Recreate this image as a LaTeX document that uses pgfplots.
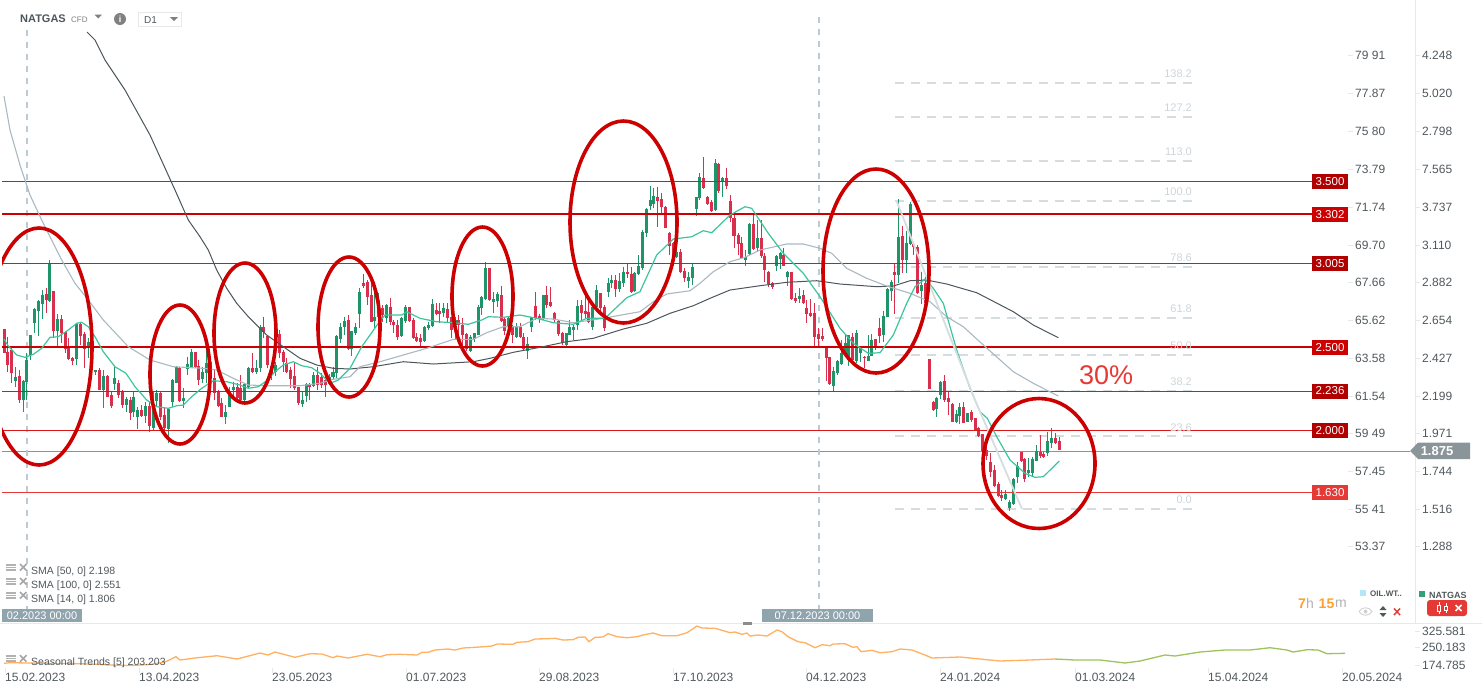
\documentclass[border=0pt]{standalone}
\usepackage{fontspec}
\setmainfont{Liberation Sans}
\usepackage{pgfplots}
\usepackage{pgfplotstable}
\pgfplotsset{compat=1.18}
\definecolor{up}{HTML}{1F9468}
\definecolor{down}{HTML}{D92E4C}
\definecolor{ma14}{HTML}{3CC49C}
\definecolor{ma50}{HTML}{A9B8C1}
\definecolor{ma100}{HTML}{4B565C}
\definecolor{ring}{HTML}{CC0000}
\definecolor{lvl}{HTML}{B00000}
\definecolor{lvlline}{HTML}{D81818}
\definecolor{lvllow}{HTML}{E53935}
\definecolor{cursor}{HTML}{BCCBD3}
\definecolor{fib}{HTML}{D5DDE1}
\definecolor{fibtext}{HTML}{CDD5D9}
\definecolor{tagbg}{HTML}{90A4AE}
\definecolor{pricebg}{HTML}{8A9599}
\definecolor{ticktext}{HTML}{50585C}
\definecolor{hair}{HTML}{E6E8EA}
\definecolor{season}{HTML}{FFB060}
\definecolor{seasonb}{HTML}{9CC45A}
\definecolor{clock}{HTML}{FF9F2E}
\newcommand{\fs}[1]{\fontsize{#1}{#1}\selectfont}
\newcommand{\fiblabel}[2]{\node[anchor=east, inner sep=0pt, text=fibtext, font=\fs{11}] at (axis cs:1192,#1) {#2};}
\newcommand{\lvltag}[3]{\node[fill=#2, text=white, font=\fs{11.5}, inner sep=0pt, minimum width=36pt, minimum height=15pt] at (axis cs:1330,#1) {#3};}

% all positions: x and y in image pixels
% columns: x, wick top, wick bottom, body top, body bottom
\pgfplotstableread{
x hi lo top bot
15.3 366.7 386.7 377.3 381
23.3 380 411.7 380.7 400
26.7 353.3 400 360 381.7
30.3 335 360 335 355
34.3 308.3 332.7 309 323.3
38.3 300 336 301 310.7
42.3 290 319.3 295 304
49.3 260 301.7 264.3 300.7
57.3 314.3 346 319 330.7
76.3 323.3 365 324 359.3
88.3 338.3 358.3 342.3 348.3
95.3 370 375 370 372.3
103.3 370 408.3 376 390
114.7 366.7 390 378.3 384.3
126.3 396.7 411.7 399 405
133.3 391 416.7 396.7 411.7
137.3 406.7 429.3 410 416.7
145.3 401.7 423.3 406 416
153.3 391.7 430 410 427.7
156.7 390 406.7 392.7 400.7
168.3 408.3 443.3 409 429.3
172.3 379.3 407.3 380 401.7
176.3 365.7 383.3 367.3 382.7
183.3 388.3 408.3 398.3 400.7
187.3 356.7 375 364.3 369
191.3 349.3 368.3 352.3 367.7
202.3 366.7 383.3 371.7 379.3
206.3 348.3 383.3 363.3 372.7
225.3 405 424.3 411.7 416.7
229.3 386.7 406.7 391.7 406.7
233.3 381.7 396.7 386.7 390
244.3 383.3 405 384 400
248.3 366.7 388.3 368.3 386.7
256.3 360 374 367.7 371.7
260.3 325 371.7 327.3 367.7
275.3 362 376 365 372
302.3 391.7 406.7 400 404
306.3 383.3 401.7 384 396
313.7 371.7 386.7 375 385.7
329.7 374 385 376.7 384
333 366.7 379.3 371.7 377.3
336.3 335 378.3 336 372.7
340.3 323.3 343.3 327.3 339
344.3 316.7 335 321 327.3
351.7 331 355.7 331 349.3
355.3 323.3 335 327.3 333.3
359.3 288.3 328.3 291.7 314
374.3 288.3 328.3 317.3 321
378.3 293.3 320 300 316.7
386.3 304.3 323.3 305 318.3
401.3 316.7 336.7 318.3 335.7
405.3 305 323.3 306.7 321
424.3 326 341.7 326.7 341
428.3 321.7 330 325 328.3
432.3 299.3 326.7 304 325.7
443.3 303.3 316.7 308.3 312.7
455.3 316.7 340 320 325
470.3 335 351.7 337.3 350.7
474.3 332.7 341.7 333.3 339
478.3 305 335 307.3 335
481.3 296 315 296.7 308.3
485.3 261.7 300 268.3 299
493.3 291.7 313.3 299.3 301.7
497.3 291.7 306.7 294 300.7
508.3 316.7 335 318.3 326.7
516.3 323.3 338.3 326.7 337.3
527.3 336.7 359.3 344 350.7
531.3 316.7 331.7 317.3 326.7
543.3 295 320 295.3 317.7
566.3 333.3 346 333.3 345
569.3 320 335 326.7 335
573.3 324 340 326.7 330
577.3 300 330 306 325
592.3 305 330 307.3 326.7
596.3 285 308.3 290 307.3
608.3 278.3 296.7 283.3 291.7
611.3 275 288.3 280 282.7
619.3 273.3 291.7 280.7 289.3
623.3 266.7 286.7 272.3 282.7
634.3 271.7 291.7 273.3 291
638.3 255 275 266 274.3
642.3 230 270 232.3 267.7
646.3 208.3 236.7 209.3 233.3
650.3 186 210 200 205.7
653.7 188.3 208.3 196 204
676.7 246.7 258.3 251.7 256.7
688.3 271.7 288.3 277.3 280.7
692.3 264 285 267.3 278.3
696.3 196.7 216 197.3 209.3
699.3 173.3 200 177.3 198.3
715.3 159.3 210.7 163.3 210
722.7 176.7 196.7 178.3 181
745.3 250 266 257.3 260
749.3 223.3 255 224 254
757.3 220 251.7 238.3 247.7
776.3 255 271 256 266
780.3 251.7 269.3 252.7 259.3
787.3 271 286 272.3 276.7
799.3 288.3 303.3 295.7 299.3
833.3 366.7 390.7 371 385.7
837.3 360 375 361 372.7
841.3 340 365 353.3 364
845.3 335 356.7 343.3 354
848.3 335 366 335.3 360
856.3 330 363.3 333.3 360.7
860.3 348.3 361.7 348.3 352.7
868.3 335 361 355.7 360.7
871.3 334.3 356 340 356
883.3 310.7 341.7 316 335
887.3 288.3 316.7 289.3 316.7
891.3 280 300.7 282.3 291
898.3 199.3 283.3 237.3 275
906.3 230.7 272.7 243.3 260
910.3 201.7 245 204 244
921.3 271.7 304 285 290.7
936.3 396.7 416.7 397.7 409
940.3 380.7 399 382 395
956.3 410 422.7 414.3 421.7
959.3 403.3 424 407.3 415.7
967.3 412.7 421.7 413.3 421.7
1005.3 490 500 494 499
1009.3 500 510.7 502.3 507.7
1013.3 478.3 505 479.3 504.3
1017.3 461.7 483.3 466 477.3
1028.3 458.3 476.7 470 472.7
1032.3 456.7 477.3 459 473.3
1036.3 445 460.7 451 460.7
1047.3 432.3 455.7 441 452.7
1051.3 428.3 448.3 438 442.7
}\upcandles

\pgfplotstableread{
x hi lo top bot
4.3 329.3 353.3 329.3 352.7
7.3 336.7 371.7 351.7 365
11.3 346.7 383.3 350 372.7
19.3 370 402.7 376 400
46.3 288.3 312.7 294 300
53.3 291 337.7 291 331
61.3 315 343.3 319.3 333.3
65.3 331.7 352.7 331.7 349.3
68.3 338.3 360 348.3 359.3
72.3 356.7 365 357.7 361
80.3 321.7 345 324 336
84.3 331.7 368.3 334 348.7
91.7 340 356.7 345 353
99.3 368.3 390 370 390
107.3 375 396.7 376 396.7
111.3 391.7 408.3 395 405.7
118.3 380 398.3 383.3 395
122.3 390 408.3 392 405
130.3 396.7 420 400 413.3
141.3 405 416.7 410 416
149.3 401.7 431.7 406 426
160.3 391.7 420 393.3 416.7
164.7 408.3 430 415 428.3
179.3 366.7 401.7 367.7 401
195.3 351.7 368.3 352.3 366.7
198.7 360 385 365.7 380
210.3 356.7 376.7 361.7 373.3
214.3 370 400 377.7 393.3
218.3 390 406.7 391 406
221.7 398.3 416.7 403.3 416.7
237.3 383.3 400 386.7 398.3
240.7 375 403.3 387.7 400
252.3 353.3 373.3 368.3 371.7
263.3 316.7 338.3 327.3 331.7
267.3 335 368.3 335.7 365
271.7 363 380 366 375
279.3 330 358.3 334.3 353.3
283.3 350 371.7 352.3 361.7
286.3 358.3 373.3 362.7 371.7
290.3 366.7 388.3 370 379
294.3 363.3 390 376 388.3
298.3 386.7 405 387.3 403.3
309.7 383.3 400 384 387.3
317.7 366.7 390 375 385
321.7 373.3 388.3 377.3 385
325.7 376.7 396.7 380 385
348.3 315 350 320 349.3
363.3 274 288.3 283.3 285.7
367.3 280 305 282.3 296.7
371.3 283.3 321.7 295 321.7
382.3 305 321.7 308.3 315
390.3 298.3 325 306.7 322.3
393.3 320 333.3 321.7 325
397.3 320 340 325 336.7
409.3 306.7 321.7 307.3 321
413.3 318.3 339.3 320 338.3
416.3 333.3 341.7 337.3 340.7
420.3 334 348.3 338.3 342.3
436.3 303.3 315 310 314
439.3 303.3 323.3 310.7 314
447.3 303.3 321.7 309 318.3
451.3 316.7 338.3 316.7 330
458.3 315 335 320 325
462.3 318.3 345 325 335
466.3 333.3 350.7 334 349.3
489.3 268.3 301 268.3 300
501.3 285.7 321.7 295 320.7
504.3 316.7 335 319 331
512.3 325 342.7 326.7 335
520.3 323.3 338.3 327.3 337.3
523.3 333.3 350.7 336.7 349.3
535.3 291.7 320 306 318.3
539.3 314.3 323.3 316 318.3
546.3 286 308.3 295 305
550.3 286.7 307.3 302.3 306
554.3 311.7 323.3 313.3 320
558.3 320 335.7 321 334
562.3 331.7 345 333.3 343.3
581.3 300 321.7 305.3 312.7
585.3 295 318.3 310.7 314
588.3 298.3 323.3 311.7 321.7
600.3 293.3 315 293.3 308.3
604.3 305 330.7 307.3 327.7
615.3 275 296.7 280 289.3
627.3 263.3 278.3 272.3 274.3
631.3 266.7 293.3 274 291.7
657.3 186.7 226.7 197.3 200.7
661.3 193.3 212.7 199.3 206.7
665.3 206 228.3 207.3 228.3
669.3 231.7 255 232.7 245.7
673.3 241.7 266 243.3 256
680.3 249.3 273.3 252.3 271.7
684.3 268.3 281.7 270.7 277.7
703.3 157.3 189.3 178.3 187.7
707.3 196 205 196.7 204
711.3 200 211.7 202.3 211.3
718.7 162.7 192.7 164 190.7
726.3 168.3 189.3 178.3 185.7
730.3 195 221.7 201 218.3
734 213.3 247.7 218.3 235.7
738.3 233.3 255 235 244
741.7 236.7 259.3 243.3 258.3
753.3 215 250 224 249
761.3 220 258.3 238.3 256
764.3 253.3 281.7 255.7 270
768.3 270.7 286.7 271.7 284.3
772.3 281.7 289 282.7 287.3
783.3 248.3 266 255 265.7
791.3 271.7 300 272.3 299.3
795.3 293.3 303.3 298.3 301
803.3 290 304 295.3 302.7
806.3 300 322.7 308.3 314.3
810.3 299.3 317.3 313.3 316
814.3 303.3 348.3 313.3 336.7
818.3 328.3 348.3 334 339
822.3 328.3 341 336 339
826.3 348.3 381 348.3 357.7
829.3 356.7 385 357.3 384
852.3 333.3 361.7 337.3 360
864.3 356 368.3 356.7 358.3
875.3 339.3 350 339.3 347.7
879.3 318.3 343.3 328.3 336
894.3 263.3 314.3 272.3 275
902.3 226 273.3 236 260
913.3 243.3 255 244.3 246.7
917.3 245 294 247.3 292.7
925.3 276.7 313.3 283.3 303.3
929.3 359.3 389.3 359.3 389.3
933.3 400.7 410.7 401.7 410
944.3 375 401.7 381.3 400
948.3 392.3 415 398.3 401.7
952.3 402.7 421.7 404.3 421.7
963.3 402.3 423.3 407.3 422.7
971.3 410 421.7 412 420
975.3 418.3 430.7 418.3 430
978.7 426.7 437.3 428.3 435.7
982.7 434 450.7 434 450.7
986.3 446.7 460 450 456
990.3 453.3 476.7 462.3 472.3
994.3 465 487.3 470 486
998.3 481.7 496.7 484 496
1001.3 490 500.7 495 498.3
1021.3 451.7 461.7 452.3 461
1024.3 458.3 481.7 459.3 479.3
1040.3 435 458.3 451.7 456
1043.7 451.7 458.3 454 457.3
1055.3 433.3 444 438.3 443.3
1059.3 437.3 450 441 450
}\downcandles

\begin{document}
\begin{tikzpicture}
\useasboundingbox (0,0) rectangle (1482pt,-694pt);

% second price scale and the last-price line
\begin{axis}[
    at={(2pt,0pt)}, anchor=north west, scale only axis,
    width=1413pt, height=623pt,
    xmin=2, xmax=1415, ymin=0, ymax=623, y dir=reverse,
    hide x axis, axis y line*=right,
    y axis line style={draw=hair, line width=0.8pt, -},
    tick align=outside, major tick length=5pt,
    y tick style={draw=hair, line width=0.8pt},
    ytick={55,93,131,169,207,245,282,320,358,396,433,471,509,546},
    yticklabels={4.248,5.020,2.798,7.565,3.737,3.110,2.882,2.654,2.427,2.199,1.971,1.744,1.516,1.288},
    yticklabel style={font=\fs{12}, text=ticktext, anchor=west, inner sep=0pt, xshift=2pt},
]
\addplot[color=pricebg, line width=1pt, forget plot] coordinates {(2,451)(1410,451)};
\end{axis}

% price panel
\begin{axis}[
    at={(2pt,0pt)}, anchor=north west, scale only axis,
    width=1346pt, height=623pt,
    xmin=2, xmax=1348, ymin=0, ymax=623, y dir=reverse,
    hide x axis, axis y line*=right,
    y axis line style={draw=none},
    clip mode=individual,
    tick align=outside, major tick length=5pt,
    y tick style={draw=hair, line width=0.8pt},
    ytick={55,93,131,169,207,245,282,320,358,396,433,471,509,546},
    yticklabels={79 91,77.87,75 80,73.79,71.74,69.70,67.66,65.62,63.58,61.54,59 49,57.45,55 41,53.37},
    yticklabel style={font=\fs{12}, text=ticktext, anchor=west, inner sep=0pt, xshift=2pt},
]
% Fibonacci grid
\pgfplotsinvokeforeach{83,117,161,201,267,318,355,391,436,509}{
  \addplot[color=fib, line width=1.8pt, dash pattern=on 9pt off 7pt, forget plot] coordinates {(895,#1)(1192,#1)};
}
% date cursors
\addplot[color=cursor, line width=1.2pt, dash pattern=on 6pt off 6pt, forget plot] coordinates {(27,30)(27,609)};
\addplot[color=cursor, line width=1.2pt, dash pattern=on 6pt off 6pt, forget plot] coordinates {(819,17)(819,609)};

% candles
\addplot[draw=none, mark=none, forget plot, error bars/.cd, y dir=plus, y explicit, error mark=none,
    error bar style={draw=up, line width=0.9pt}]
    table[x=x, y=hi, y error plus expr=\thisrow{lo}-\thisrow{hi}] {\upcandles};
\addplot[draw=none, mark=none, forget plot, error bars/.cd, y dir=plus, y explicit, error mark=none,
    error bar style={draw=up, line width=3.2pt}]
    table[x=x, y=top, y error plus expr=\thisrow{bot}-\thisrow{top}] {\upcandles};
\addplot[draw=none, mark=none, forget plot, error bars/.cd, y dir=plus, y explicit, error mark=none,
    error bar style={draw=down, line width=0.9pt}]
    table[x=x, y=hi, y error plus expr=\thisrow{lo}-\thisrow{hi}] {\downcandles};
\addplot[draw=none, mark=none, forget plot, error bars/.cd, y dir=plus, y explicit, error mark=none,
    error bar style={draw=down, line width=3.2pt}]
    table[x=x, y=top, y error plus expr=\thisrow{bot}-\thisrow{top}] {\downcandles};

% horizontal levels
\pgfplotsinvokeforeach{181,263,391,430}{
  \addplot[color=lvlline, line width=1pt, forget plot] coordinates {(2,#1)(1312,#1)};
}
\pgfplotsinvokeforeach{214,347}{
  \addplot[color=ring, line width=2.2pt, forget plot] coordinates {(2,#1)(1312,#1)};
}
\addplot[color=lvllow, line width=1pt, forget plot] coordinates {(2,492)(1312,492)};

% SMA 100
\addplot[color=ma100, line width=1pt, forget plot] coordinates {
(87,32)(95,40)(105,60)(125,90)(150,135)(175,190)(188.3,220)(200,236.7)(208.3,250)(216.7,270)(226.7,288.3)
(236.7,303.3)(248.3,316.7)(266.7,335)(283.3,346.7)(300,358.3)(316.7,365)(333.3,368.3)(350,369)(373.3,366.7)
(403.3,361.7)(433.3,364)(473.3,361.7)(490,358.3)(513.3,352.3)(540,347.3)(566.7,341.7)(593.3,338.3)(623.3,329)
(646.7,323.3)(670,313.3)(693.3,305.7)(710,298.3)(730,290)(760,285.7)(786.7,282.3)(816.7,280.7)(840,284)
(876.7,286.7)(893.3,286)(910,280.7)(926.7,280)(946.7,284)(976.7,292.7)(1013.3,311.7)(1033.3,325)(1058.3,337.7)
};
% SMA 50
\addplot[color=ma50, line width=1.1pt, forget plot] coordinates {
(4,96)(10,130)(20,165)(30,195)(41.7,220)(61.7,260)(75,283.3)(88.3,300)(103.3,320)(128.3,346.7)(150,360)
(173.3,366.7)(203.3,368.3)(216.7,370)(233.3,378.3)(248.3,385)(266.7,385.7)(300,385.7)(320,383.3)(333,379.3)
(350,376.7)(360,366.7)(380,361.7)(403.3,355)(426.7,348.3)(453.3,339.3)(473.3,339.3)(486.7,332.7)(503.3,326.7)
(520,326.7)(536.7,318.3)(553.3,319)(573.3,322.7)(603.3,318.3)(626.7,314)(640,311.7)(653.3,301.7)(666.7,294)
(690,290.7)(700,283.3)(713.3,271.7)(730,261.7)(745,257.3)(760,250)(786.7,244)(803.3,244)(820,248.3)(831.7,253.3)
(846.7,268.3)(866.7,278.3)(886.7,286)(910,293.3)(930,301.7)(946.7,316.7)(963.3,326.7)(983.3,345)(1013.3,371.7)
(1033.3,383.3)(1058.3,396)
};
% SMA 14
\addplot[color=ma14, line width=1.2pt, forget plot] coordinates {
(4,339)(8.3,346)(16.7,355)(25,357.3)(33.3,354.3)(41.7,348.3)(50,337.3)(58.3,336.7)(68.3,330)(76.7,323.3)(81.7,322.3)
(88.3,326.7)(95,336.7)(103.3,351.7)(115,366.7)(126,373.3)(135,386.7)(146.7,400)(156.7,406.7)(168.3,408.3)(176.7,405.7)
(183.3,405)(191.7,396.7)(201.7,388.3)(213.3,380.7)(226.7,381.7)(240,385)(248.3,388.3)(258.3,386.7)(266.7,380.7)
(275,371.7)(283.3,365)(293.3,361.7)(301.7,365.7)(311.7,367.7)(320,373.3)(330,383.3)(338.3,380)(350,368.3)(361.7,346.7)
(378.3,323.3)(385,315)(401.7,315)(406.7,311.7)(420,318.3)(436.7,321.7)(453.3,322.7)(468.3,324.3)(481.7,320)(488.3,316.7)
(503.3,317.3)(520,315)(536.7,318.3)(553.3,322.7)(573.3,324.3)(586.7,318.3)(605,318.3)(626.7,297.7)(640,291.7)(656.7,255)
(673.3,239)(691.7,236.7)(703.3,230.7)(711.7,232.7)(730,215)(745,206.7)(751.7,208.3)(768.3,233.3)(783.3,253.3)(803.3,273.3)
(820,296.7)(840,328.3)(853.3,343.3)(868.3,353.3)(880,352.7)(893.3,335)(906.7,303.3)(915,286.7)(925,279)(933.3,288.3)
(943.3,303.3)(956.7,350)(970,388.3)(980,411.7)(987.3,418.3)(996.7,436.7)(1010,460)(1025,473.3)(1035,477.3)(1043.3,476.7)(1059.3,461)
};
% fibonacci swing line
\addplot[color=fib, line width=1.8pt, forget plot] coordinates {(897,202)(975,400)(1022,509)};

% price rings
\begin{scope}
\clip (axis cs:2,0) rectangle (axis cs:1348,623);
\draw[ring, line width=3.6pt] (axis cs:39,346.5) ellipse [x radius=53pt, y radius=118.5pt];
\draw[ring, line width=3.6pt] (axis cs:180,374.5) ellipse [x radius=30pt, y radius=69.5pt];
\draw[ring, line width=3.6pt] (axis cs:245,333) ellipse [x radius=31pt, y radius=70pt];
\draw[ring, line width=3.6pt] (axis cs:349,327) ellipse [x radius=31pt, y radius=70pt];
\draw[ring, line width=3.6pt] (axis cs:482.5,296.5) ellipse [x radius=30.5pt, y radius=69.5pt];
\draw[ring, line width=3.6pt] (axis cs:623.5,222) ellipse [x radius=53.5pt, y radius=101pt];
\draw[ring, line width=3.6pt] (axis cs:876,271) ellipse [x radius=53pt, y radius=102pt];
\draw[ring, line width=3.6pt] (axis cs:1039,463.5) ellipse [x radius=56pt, y radius=65pt];
\end{scope}

% fibonacci labels
\fiblabel{74}{138.2}
\fiblabel{108}{127.2}
\fiblabel{152}{113.0}
\fiblabel{192}{100.0}
\fiblabel{258}{78.6}
\fiblabel{309}{61.8}
\fiblabel{346}{50.0}
\fiblabel{382}{38.2}
\fiblabel{428}{23.6}
\fiblabel{500}{0.0}
% level tags
\lvltag{181.5}{lvl}{3.500}
\lvltag{214.5}{ring}{3.302}
\lvltag{263.5}{lvl}{3.005}
\lvltag{347.5}{ring}{2.500}
\lvltag{391}{lvl}{2.236}
\lvltag{430.5}{lvl}{2.000}
\lvltag{492.5}{lvllow}{1.630}
\node[anchor=west, inner sep=0pt, text=lvllow, font=\fs{27}] at (axis cs:1079,375) {30\%};

% date tags
\node[fill=tagbg, text=white, font=\fs{11}, inner sep=0pt, minimum width=80pt, minimum height=13.5pt] at (axis cs:42,615.7) {02.2023 00:00\hspace{10pt}};
\node[fill=tagbg, text=white, font=\fs{11}, inner sep=0pt, minimum width=111pt, minimum height=13.5pt, align=center] at (axis cs:817.5,615.7) {07.12.2023 00:00};
\end{axis}

% seasonal panel
\begin{axis}[
    at={(2pt,-623pt)}, anchor=north west, scale only axis,
    width=1413pt, height=45pt,
    xmin=2, xmax=1415, ymin=623, ymax=668, y dir=reverse,
    axis x line*=bottom, axis y line*=right,
    axis line style={draw=none},
    tick align=outside, major tick length=5pt,
    tick style={draw=hair, line width=0.8pt},
    xtick={5,139,272,406,539,673,806,940,1075,1208,1342},
    xticklabels={15.02.2023,13.04.2023,23.05.2023,01.07.2023,29.08.2023,17.10.2023,04.12.2023,24.01.2024,01.03.2024,15.04.2024,20.05.2024},
    xticklabel style={font=\fs{12}, text=ticktext, anchor=north west, inner sep=0pt},
    ytick={631,647,665},
    yticklabels={325.581,250.183,174.785},
    yticklabel style={font=\fs{12}, text=ticktext, anchor=west, inner sep=0pt, xshift=2pt},
]
\addplot[color=season, line width=1.3pt, forget plot] coordinates {
(4,663.3)(10,662.7)(30,663)(50,663.5)(70,663.5)(90,664)(110,665)(130,665.5)(150,664.5)(165,662)(176,656.7)(180,660)
(195,658)(217,655.7)(237,659)(260,653)(268,655)(275,652)(295,657.3)(310,653.7)(322,654)(333,657.7)(337,656)(348,658)
(367,654.3)(380,656.7)(387,654.7)(400,654.3)(417,655)(422,652.3)(428,652.3)(435,650)(448,649)(455,650)(463,648)(480,647)
(492,646)(497,644)(513,644.3)(517,642.3)(528,641.7)(535,639)(547,638.7)(555,638.3)(563,640)(573,639.7)(578,637.3)(585,637)
(589,641.7)(595,637.3)(603,637)(608,633.7)(617,636.7)(627,637.7)(637,636.7)(643,635)(653,633)(662,635.7)(677,635.7)(687,632.7)
(697,626)(702,628)(715,628.3)(720,629.7)(730,632.7)(735,632)(742,634.3)(747,633)(750,636)(758,635)(767,636)(777,630)(782,631.7)
(788,636.7)(798,641.7)(805,642.7)(815,647.7)(822,644.7)(830,645.7)(833,644)(845,643.7)(853,647.3)(857,646.7)(861,651.7)(872,650.3)
(880,652.7)(892,651.7)(900,649)(912,650)(925,655)(932,658)(960,657)(990,660)(1000,661)(1030,660)(1055,659)
};
\addplot[color=seasonb, line width=1.3pt, forget plot] coordinates {
(1055,659)(1075,660)(1100,660)(1125,663)(1140,661)(1165,655)(1175,656)(1200,652)(1225,650)(1250,650)(1270,647.7)
(1287,650)(1293,652)(1307,649.7)(1318,650)(1327,653.7)(1345,653.3)
};
\end{axis}

% interface furniture, x and y in image pixels
\begin{scope}[x=1pt, y=-1pt]
\draw[hair, line width=1pt] (0,623) -- (1482,623);
\fill[black!45] (743,622) rectangle (752,625);

% header
\node[anchor=west, inner sep=0pt, font=\fs{11}\bfseries, text=ma100] at (20,19) {NATGAS};
\node[anchor=west, inner sep=0pt, font=\fs{8}, text=black!50] at (71,19.5) {CFD};
\fill[black!50] (94.5,14.5) -- (102,14.5) -- (98.2,18.5) -- cycle;
\fill[black!50] (120,19) circle (6);
\node[inner sep=0pt, font=\fs{9}\bfseries, text=white] at (120,19) {i};
\draw[hair, line width=0.8pt] (138.5,12) rectangle (181.5,26.5);
\node[anchor=west, inner sep=0pt, font=\fs{10}, text=ticktext] at (144,20) {D1};
\fill[black!50] (170,17) -- (178,17) -- (174,21) -- cycle;

% indicator legend
\foreach \yy/\lab in {571.5/SMA [50{,} 0] 2.198,585.5/SMA [100{,} 0] 2.551,599.5/SMA [14{,} 0] 1.806,662.7/Seasonal\ Trends\ [5]\ 203.203}{
  \node[anchor=west, inner sep=0pt, font=\fs{10.5}, text=ticktext] at (31,\yy) {\lab};
  \fill[black!30] (6,\yy-7.5) rectangle (16,\yy-5.5);
  \fill[black!30] (6,\yy-4.5) rectangle (16,\yy-3.5);
  \fill[black!30] (6,\yy-2.5) rectangle (16,\yy-1);
  \draw[black!35, line width=1.6pt] (20,\yy-7.5) -- (26.5,\yy-1) (26.5,\yy-7.5) -- (20,\yy-1);
}

% last price tag
\fill[pricebg] (1410,451) -- (1418,442.5) -- (1470,442.5) -- (1470,459) -- (1418,459) -- cycle;
\node[inner sep=0pt, font=\fs{13}\bfseries, text=white] at (1437,451) {1.875};

% countdown
\node[anchor=east, inner sep=0pt, font=\fs{14}\bfseries, text=clock] at (1306,603.5) {7};
\node[anchor=west, inner sep=0pt, font=\fs{14}, text=black!30] at (1306,603.5) {h};
\node[anchor=west, inner sep=0pt, font=\fs{14}\bfseries, text=clock] at (1318.5,603.5) {15};
\node[anchor=west, inner sep=0pt, font=\fs{14}, text=black!30] at (1335,603.5) {m};

% instrument switch
\fill[cyan!30] (1360,590) rectangle (1366,596);
\node[anchor=west, inner sep=0pt, font=\fs{8}\bfseries, text=ticktext] at (1370,594) {OIL.WT..};
\fill[up!90] (1419,591) rectangle (1425,597);
\node[anchor=west, inner sep=0pt, font=\fs{9}\bfseries, text=ticktext] at (1429,595) {NATGAS};
\draw[black!18, line width=0.9pt] (1359,611.5) .. controls (1362,606.5) and (1369,606.5) .. (1372,611.5) .. controls (1369,616.5) and (1362,616.5) .. (1359,611.5);
\fill[black!18] (1365.5,611.5) circle (2);
\fill[ticktext] (1379.5,610) -- (1383,606) -- (1386.5,610) -- cycle;
\fill[ticktext] (1379.5,613) -- (1383,617) -- (1386.5,613) -- cycle;
\draw[lvllow, line width=1.5pt] (1394,608.5) -- (1400,615) (1400,608.5) -- (1394,615);
\fill[lvllow, rounded corners=3pt] (1427,600) rectangle (1467,616);
\draw[white, line width=0.8pt] (1439,602) -- (1439,614) (1446,603) -- (1446,613);
\draw[white, fill=lvllow, line width=0.8pt] (1437.5,605) rectangle (1440.5,611);
\draw[white, fill=lvllow, line width=0.8pt] (1444.5,606) rectangle (1447.5,610);
\draw[white, line width=1.5pt] (1455.5,605) -- (1461.5,611) (1461.5,605) -- (1455.5,611);
\end{scope}
\end{tikzpicture}
\end{document}
